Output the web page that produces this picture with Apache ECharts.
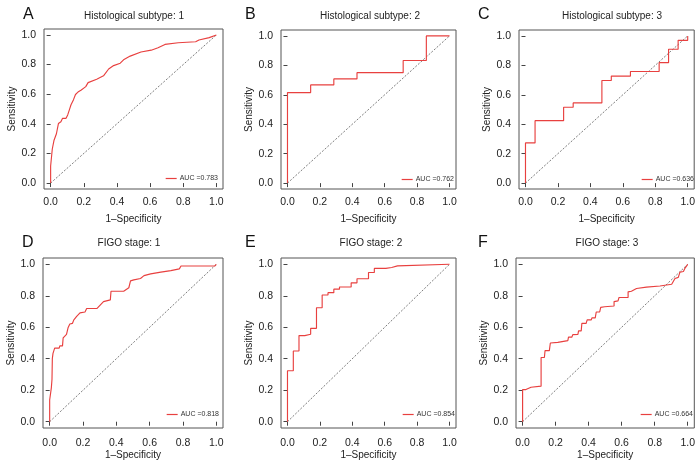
<!DOCTYPE html>
<html>
<head>
<meta charset="utf-8">
<script src="https://cdn.jsdelivr.net/npm/echarts@6/dist/echarts.min.js"></script>
<style>html,body{margin:0;padding:0;background:#fff}#c{width:698px;height:463px}</style>
</head>
<body>
<div id="c"></div>
<script>
// ---- data ----
const tickValues = [0, 0.2, 0.4, 0.6, 0.8, 1.0];
const panelLetters = ['A', 'B', 'C', 'D', 'E', 'F'];
const panelTitles = ['Histological subtype: 1', 'Histological subtype: 2', 'Histological subtype: 3',
                     'FIGO stage: 1', 'FIGO stage: 2', 'FIGO stage: 3'];
const aucLabels = ['AUC =0.783', 'AUC =0.762', 'AUC =0.636', 'AUC =0.818', 'AUC =0.854', 'AUC =0.664'];

const fprA = [0,0,0.01,0.02,0.035,0.047,0.062,0.072,0.093,0.103,0.113,0.123,0.138,0.150,0.165,0.185,0.212,0.226,0.278,0.319,0.35,0.38,0.42,0.44,0.48,0.545,0.607,0.648,0.69,0.77,0.875,0.895,0.957,1];
const tprA = [0,0.115,0.23,0.287,0.333,0.402,0.414,0.437,0.437,0.46,0.494,0.529,0.563,0.598,0.614,0.628,0.651,0.678,0.701,0.724,0.77,0.793,0.809,0.832,0.857,0.885,0.897,0.913,0.936,0.947,0.954,0.966,0.982,1];

const fprB = [0,0,0.143,0.143,0.286,0.286,0.429,0.429,0.714,0.714,0.857,0.857,1];
const tprB = [0,0.615,0.615,0.667,0.667,0.708,0.708,0.75,0.75,0.833,0.833,1,1];

const fprC = [0,0,0.059,0.059,0.235,0.235,0.294,0.294,0.471,0.471,0.529,0.529,0.647,0.647,0.824,0.824,0.882,0.882,0.941,0.941,1,1];
const tprC = [0,0.273,0.273,0.424,0.424,0.515,0.515,0.545,0.545,0.697,0.697,0.727,0.727,0.758,0.758,0.818,0.818,0.909,0.909,0.970,0.970,1];

const fprD = [0,0,0.006,0.01,0.014,0.016,0.02,0.03,0.057,0.061,0.077,0.081,0.091,0.101,0.111,0.121,0.137,0.145,0.162,0.182,0.212,0.222,0.283,0.303,0.323,0.364,0.368,0.444,0.455,0.475,0.485,0.505,0.545,0.566,0.606,0.667,0.727,0.778,0.788,0.99,1];
const tprD = [0,0.138,0.149,0.215,0.27,0.401,0.434,0.467,0.467,0.482,0.482,0.533,0.537,0.555,0.599,0.621,0.625,0.647,0.669,0.691,0.697,0.719,0.719,0.741,0.763,0.774,0.829,0.829,0.84,0.851,0.895,0.901,0.91,0.928,0.939,0.95,0.96,0.971,0.989,0.989,1];

const fprE = [0,0,0.036,0.036,0.071,0.071,0.107,0.107,0.143,0.143,0.179,0.179,0.214,0.214,0.25,0.25,0.286,0.286,0.321,0.321,0.393,0.393,0.429,0.429,0.5,0.5,0.536,0.536,0.607,0.607,0.643,0.643,0.679,0.679,1];
const tprE = [0,0.324,0.324,0.449,0.449,0.547,0.547,0.556,0.556,0.593,0.593,0.724,0.724,0.805,0.805,0.82,0.82,0.842,0.842,0.856,0.856,0.882,0.882,0.908,0.908,0.948,0.948,0.974,0.974,0.98,0.98,0.99,0.99,1,1];

const fprF = [0,0,0.02,0.024,0.051,0.057,0.112,0.112,0.132,0.136,0.162,0.168,0.213,0.223,0.274,0.278,0.298,0.304,0.335,0.339,0.355,0.359,0.385,0.391,0.416,0.42,0.44,0.446,0.467,0.473,0.497,0.554,0.554,0.578,0.584,0.639,0.639,0.659,0.669,0.69,0.75,0.761,0.832,0.842,0.903,0.913,0.923,0.943,0.953,0.974,0.984,1];
const tprF = [0,0.204,0.204,0.215,0.219,0.226,0.226,0.408,0.408,0.452,0.452,0.5,0.504,0.515,0.515,0.537,0.537,0.553,0.555,0.577,0.577,0.625,0.625,0.647,0.647,0.66,0.66,0.697,0.697,0.726,0.73,0.735,0.763,0.768,0.789,0.789,0.825,0.829,0.84,0.846,0.855,0.862,0.862,0.868,0.873,0.879,0.91,0.917,0.95,0.954,0.976,1];

const diagX = [0, 1];
const diagY = [0, 1];

// ---- layout / style ----
const FPR = [fprA, fprB, fprC, fprD, fprE, fprF];
const TPR = [tprA, tprB, tprC, tprD, tprE, tprF];
const boxes = [
  {l: 44, t: 29, w: 179, h: 160},
  {l: 281, t: 30, w: 175, h: 159},
  {l: 519, t: 30, w: 178, h: 159},
  {l: 43, t: 258, w: 180, h: 170},
  {l: 281, t: 258, w: 175, h: 170},
  {l: 516, t: 258, w: 180, h: 170}
];
const titlePos = [[134, 16], [370, 16], [612, 16], [129, 243], [371, 243], [607, 243]];
const letterPos = [[23, 15], [245, 15], [478, 15], [22, 243], [245, 243], [478, 243]];
const legendPos = [[218, 179], [454, 180], [694, 180], [219, 415], [455, 415], [693, 415]];
const RED = '#E8403F';
const FONT = 'Liberation Sans, Arial, Helvetica, sans-serif';

const grid = [], xAxis = [], yAxis = [], series = [], legend = [], graphic = [];
boxes.forEach((b, i) => {
  const topRow = i < 3;
  grid.push({left: b.l, top: b.t, width: b.w, height: b.h, show: true,
    borderColor: '#555', borderWidth: 1, backgroundColor: 'transparent', containLabel: false});
  const common = {
    gridIndex: i, type: 'value', min: -0.04, max: 1.04,
    splitLine: {show: false}, axisLine: {show: false},
    axisTick: {show: true, inside: false, length: 4, customValues: tickValues,
      lineStyle: {color: '#444', width: 1}},
    axisLabel: {customValues: tickValues, fontSize: 10.5, color: '#222', fontFamily: FONT,
      formatter: v => v.toFixed(1)},
    nameLocation: 'middle', nameTextStyle: {fontSize: 10, color: '#222', fontFamily: FONT}
  };
  xAxis.push(Object.assign({}, common, {name: '1–Specificity', nameGap: topRow ? 25 : 21,
    axisLabel: Object.assign({}, common.axisLabel, {margin: topRow ? 8 : 10})}));
  yAxis.push(Object.assign({}, common, {name: 'Sensitivity', nameGap: 25,
    axisLabel: Object.assign({}, common.axisLabel, {margin: 8})}));
  series.push({
    name: 'diag' + i, type: 'line', xAxisIndex: i, yAxisIndex: i,
    data: diagX.map((x, k) => [x, diagY[k]]), symbol: 'none', silent: true,
    lineStyle: {color: '#444', width: 0.7, type: [2, 1.6]}, z: 2
  });
  series.push({
    name: aucLabels[i], type: 'line', xAxisIndex: i, yAxisIndex: i,
    data: FPR[i].map((x, k) => [x, TPR[i][k]]), symbol: 'none',
    lineStyle: {color: RED, width: 1.15}, itemStyle: {color: RED}, z: 3
  });
  legend.push({
    data: [aucLabels[i]], right: 698 - legendPos[i][0], top: legendPos[i][1] - 4,
    padding: 0, itemGap: 0, itemWidth: 11, itemHeight: 1.2, icon: 'rect',
    textStyle: {fontSize: 7, color: '#333', fontFamily: FONT, padding: [0, 0, 0, -2]},
    selectedMode: false
  });
  graphic.push({type: 'text', x: titlePos[i][0], y: titlePos[i][1],
    style: {text: panelTitles[i], font: '10px ' + FONT, fill: '#222', textAlign: 'center', textVerticalAlign: 'middle'}});
  graphic.push({type: 'text', x: letterPos[i][0], y: letterPos[i][1],
    style: {text: panelLetters[i], font: '16px ' + FONT, fill: '#111', textAlign: 'left', textVerticalAlign: 'middle'}});
});

const chart = echarts.init(document.getElementById('c'), null, {renderer: 'canvas'});
chart.setOption({animation: false, backgroundColor: '#fff', grid, xAxis, yAxis, series, legend, graphic});
</script>
</body>
</html>
